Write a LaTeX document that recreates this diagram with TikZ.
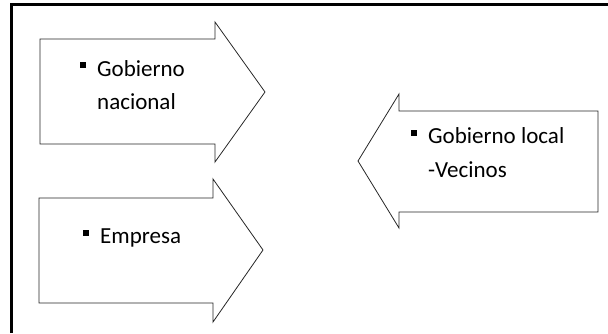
\documentclass[tikz,border=0pt]{standalone}
\usepackage{fontspec}
\setmainfont{Carlito}
\usepackage{tikz}

\begin{document}
\begin{tikzpicture}[x=1pt,y=-1pt,
  lbl/.style={font=\fontsize{23}{33}\selectfont, anchor=base west, inner sep=0pt},
  sq/.style={fill=black, minimum size=6pt, inner sep=0pt},
  shape arrow/.style={draw=black!85, line width=0.8pt}]
\useasboundingbox (0,0) rectangle (608,333);
% frame
\draw[line width=3pt] (11.5,333) -- (11.5,4.5) -- (608,4.5);
% arrows
\draw[shape arrow] (40,39) -- (215,39) -- (215,22) -- (265,92) -- (215,162) -- (215,144) -- (40,144) -- cycle;
\draw[shape arrow] (39,198) -- (213,198) -- (213,179) -- (263,250) -- (213,322) -- (213,303) -- (39,303) -- cycle;
\draw[shape arrow] (598,111) -- (399,111) -- (399,94) -- (358,161) -- (399,228) -- (399,212) -- (598,212) -- cycle;
% texts
\node[sq] (b1) at (83,65) {};
\node[lbl] (gob) at (97,76) {Gobierno};
\node[lbl] (nac) at (97,109) {nacional};
\node[sq] (b2) at (86,233) {};
\node[lbl] (emp) at (100,243) {Empresa};
\node[sq] (b3) at (414,133) {};
\node[lbl] (loc) at (428,143) {Gobierno local};
\node[lbl] (vec) at (428,177) {-Vecinos};
\end{tikzpicture}
\end{document}
